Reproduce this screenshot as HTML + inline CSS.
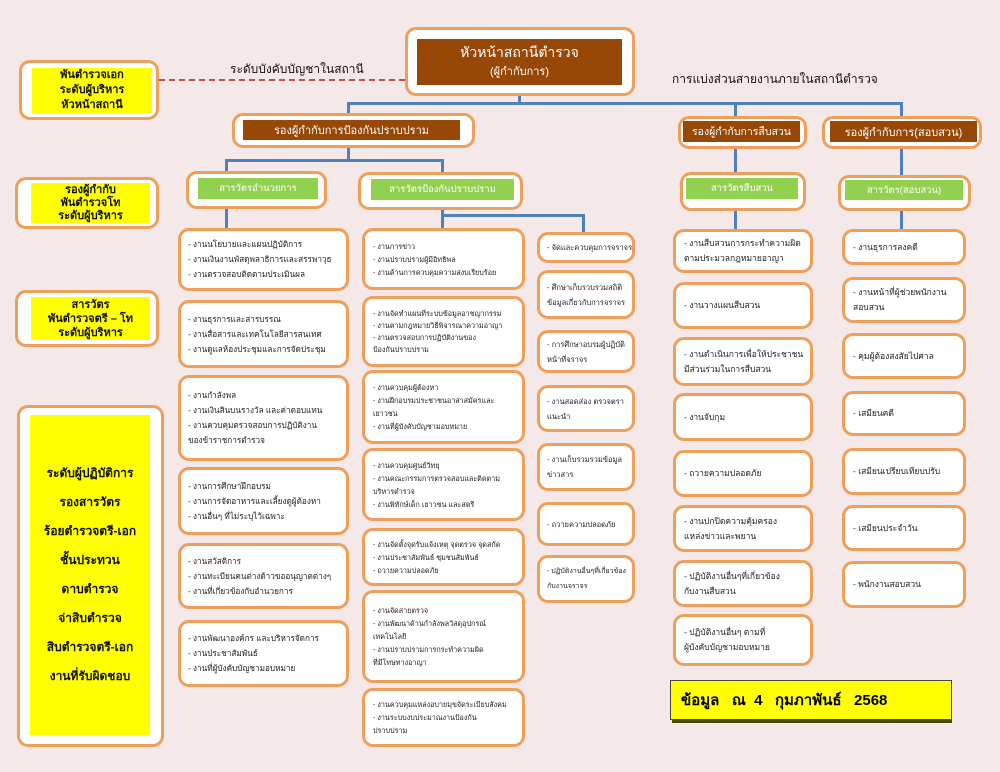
<!DOCTYPE html>
<html><head><meta charset="utf-8"><style>
*{margin:0;padding:0;box-sizing:border-box}
body{width:1000px;height:772px;background:#f5e8e8;position:relative;overflow:hidden;font-family:"Liberation Sans","Noto Sans CJK SC",sans-serif}
.b{position:absolute;background:#fff;border:3px solid #ee9f5a;border-radius:11px}
.i{position:absolute;font-size:8.5px;color:#222;line-height:15px;padding-left:8px;display:flex;flex-direction:column;justify-content:center;white-space:nowrap;overflow:hidden}
.y{position:absolute;background:#ffff00;color:#111;font-size:11px;font-weight:bold;text-align:center;display:flex;flex-direction:column;justify-content:center;white-space:nowrap}
.br{position:absolute;background:#974806;color:#fff;text-align:center;display:flex;flex-direction:column;justify-content:center;font-size:11px;white-space:nowrap}
.g{position:absolute;background:#92d050;color:#fff;text-align:center;font-size:9.5px;display:flex;align-items:center;justify-content:center;white-space:nowrap}
.l{position:absolute;background:#4f81bd}
.t{position:absolute;font-size:12px;color:#111;white-space:nowrap}
.sa{font-size:8.2px;padding-left:7px}
.sb{font-size:7.2px;line-height:13px}
.sc{font-size:7.5px;padding-left:7px}
</style></head><body>
<div class="b" style="left:19px;top:60px;width:140px;height:60px"></div>
<div class="y" style="left:32px;top:68px;width:120px;height:45px;line-height:15px">พันตำรวจเอก<br>ระดับผู้บริหาร<br>หัวหน้าสถานี</div>
<div class="b" style="left:15px;top:177px;width:144px;height:52px"></div>
<div class="y" style="left:31px;top:183px;width:119px;height:40px;line-height:13px">รองผู้กำกับ<br>พันตำรวจโท<br>ระดับผู้บริหาร</div>
<div class="b" style="left:15px;top:290px;width:144px;height:57px"></div>
<div class="y" style="left:31px;top:297px;width:119px;height:43px;line-height:14px">สารวัตร<br>พันตำรวจตรี – โท<br>ระดับผู้บริหาร</div>
<div class="b" style="left:17px;top:405px;width:147px;height:342px"></div>
<div class="y" style="left:30px;top:415px;width:120px;height:320px;line-height:29px;font-size:12px">ระดับผู้ปฏิบัติการ<br>รองสารวัตร<br>ร้อยตำรวจตรี-เอก<br>ชั้นประทวน<br>ดาบตำรวจ<br>จ่าสิบตำรวจ<br>สิบตำรวจตรี-เอก<br>งานที่รับผิดชอบ</div>
<div style="position:absolute;left:159px;top:79px;width:246px;border-top:2px dashed #c0504d"></div>
<div class="t" style="left:230px;top:60px">ระดับบังคับบัญชาในสถานี</div>
<div class="t" style="left:672px;top:70px">การแบ่งส่วนสายงานภายในสถานีตำรวจ</div>
<div class="l" style="left:518px;top:95px;width:3px;height:10px"></div>
<div class="l" style="left:347px;top:102px;width:556px;height:3px"></div>
<div class="l" style="left:347px;top:102px;width:3px;height:14px"></div>
<div class="l" style="left:734px;top:102px;width:3px;height:74px"></div>
<div class="l" style="left:900px;top:102px;width:3px;height:76px"></div>
<div class="l" style="left:347px;top:146px;width:3px;height:15px"></div>
<div class="l" style="left:225px;top:159px;width:219px;height:3px"></div>
<div class="l" style="left:225px;top:159px;width:3px;height:14px"></div>
<div class="l" style="left:441px;top:159px;width:3px;height:14px"></div>
<div class="l" style="left:225px;top:207px;width:3px;height:22px"></div>
<div class="l" style="left:441px;top:207px;width:3px;height:22px"></div>
<div class="l" style="left:441px;top:214px;width:144px;height:3px"></div>
<div class="l" style="left:582px;top:214px;width:3px;height:20px"></div>
<div class="l" style="left:734px;top:208px;width:3px;height:22px"></div>
<div class="l" style="left:900px;top:208px;width:3px;height:22px"></div>
<div class="b" style="left:405px;top:27px;width:230px;height:69px"></div>
<div class="br" style="left:417px;top:39px;width:205px;height:46px;font-size:14px;line-height:20px">หัวหน้าสถานีตำรวจ<br><span style="font-size:11px">(ผู้กำกับการ)</span></div>
<div class="b" style="left:232px;top:113px;width:243px;height:35px"></div>
<div class="br" style="left:243px;top:120px;width:217px;height:20px">รองผู้กำกับการป้องกันปราบปราม</div>
<div class="b" style="left:678px;top:116px;width:129px;height:33px"></div>
<div class="br" style="left:683px;top:121px;width:117px;height:21px;font-size:10.5px">รองผู้กำกับการสืบสวน</div>
<div class="b" style="left:822px;top:116px;width:160px;height:33px"></div>
<div class="br" style="left:830px;top:121px;width:147px;height:21px">รองผู้กำกับการ(สอบสวน)</div>
<div class="b" style="left:186px;top:171px;width:141px;height:38px"></div>
<div class="g" style="left:198px;top:178px;width:120px;height:21px">สารวัตรอำนวยการ</div>
<div class="b" style="left:358px;top:172px;width:165px;height:38px"></div>
<div class="g" style="left:371px;top:179px;width:143px;height:21px">สารวัตรป้องกันปราบปราม</div>
<div class="b" style="left:680px;top:172px;width:126px;height:39px"></div>
<div class="g" style="left:686px;top:178px;width:112px;height:21px">สารวัตรสืบสวน</div>
<div class="b" style="left:838px;top:175px;width:133px;height:36px"></div>
<div class="g" style="left:845px;top:180px;width:118px;height:20px">สารวัตร(สอบสวน)</div>
<!-- column A -->
<div class="b i sa" style="left:178px;top:228px;width:171px;height:63px">- งานนโยบายและแผนปฏิบัติการ<br>- งานเงินงานพัสดุพลาธิการและสรรพาวุธ<br>- งานตรวจสอบติดตามประเมินผล</div>
<div class="b i sa" style="left:178px;top:300px;width:171px;height:68px">- งานธุรการและสารบรรณ<br>- งานสื่อสารและเทคโนโลยีสารสนเทศ<br>- งานดูแลห้องประชุมและการจัดประชุม</div>
<div class="b i sa" style="left:178px;top:375px;width:171px;height:86px">- งานกำลังพล<br>- งานเงินสินบนรางวัล และค่าตอบแทน<br>- งานควบคุมตรวจสอบการปฏิบัติงาน<br>ของข้าราชการตำรวจ</div>
<div class="b i sa" style="left:178px;top:467px;width:171px;height:68px">- งานการศึกษาฝึกอบรม<br>- งานการจัดอาหารและเลี้ยงดูผู้ต้องหา<br>- งานอื่นๆ ที่ไม่ระบุไว้เฉพาะ</div>
<div class="b i sa" style="left:178px;top:543px;width:171px;height:66px">- งานสวัสดิการ<br>- งานทะเบียนคนต่างด้าวขออนุญาตต่างๆ<br>- งานที่เกี่ยวข้องกับอำนวยการ</div>
<div class="b i sa" style="left:178px;top:620px;width:171px;height:67px">- งานพัฒนาองค์กร และบริหารจัดการ<br>- งานประชาสัมพันธ์<br>- งานที่ผู้บังคับบัญชามอบหมาย</div>
<!-- column B -->
<div class="b i sb" style="left:362px;top:228px;width:163px;height:62px">- งานการข่าว<br>- งานปราบปรามผู้มีอิทธิพล<br>- งานด้านการควบคุมความสงบเรียบร้อย</div>
<div class="b i sb" style="left:362px;top:296px;width:163px;height:71px;line-height:12px">- งานจัดทำแผนที่ระบบข้อมูลอาชญากรรม<br>- งานตามกฎหมายวิธีพิจารณาความอาญา<br>- งานตรวจสอบการปฏิบัติงานของ<br>ป้องกันปราบปราม</div>
<div class="b i sb" style="left:362px;top:370px;width:163px;height:74px">- งานควบคุมผู้ต้องหา<br>- งานฝึกอบรมประชาชนอาสาสมัครและ<br>เยาวชน<br>- งานที่ผู้บังคับบัญชามอบหมาย</div>
<div class="b i sb" style="left:362px;top:448px;width:163px;height:73px">- งานควบคุมศูนย์วิทยุ<br>- งานคณะกรรมการตรวจสอบและติดตาม<br>บริหารตำรวจ<br>- งานพิทักษ์เด็ก เยาวชน และสตรี</div>
<div class="b i sb" style="left:362px;top:528px;width:163px;height:58px">- งานจัดตั้งจุดรับแจ้งเหตุ จุดตรวจ จุดสกัด<br>- งานประชาสัมพันธ์ ชุมชนสัมพันธ์<br>- ถวายความปลอดภัย</div>
<div class="b i sb" style="left:362px;top:590px;width:163px;height:93px">- งานจัดสายตรวจ<br>- งานพัฒนาด้านกำลังพลวัสดุอุปกรณ์<br>เทคโนโลยี<br>- งานปราบปรามการกระทำความผิด<br>ที่มีโทษทางอาญา</div>
<div class="b i sb" style="left:362px;top:688px;width:163px;height:59px">- งานควบคุมแหล่งอบายมุขจัดระเบียบสังคม<br>- งานระบบงบประมาณงานป้องกัน<br>ปราบปราม</div>
<!-- column C -->
<div class="b i sc" style="left:537px;top:232px;width:98px;height:31px">- จัดและควบคุมการจราจร</div>
<div class="b i sc" style="left:537px;top:270px;width:98px;height:49px">- ศึกษาเก็บรวบรวมสถิติ<br>ข้อมูลเกี่ยวกับการจราจร</div>
<div class="b i sc" style="left:537px;top:330px;width:98px;height:43px">- การศึกษาอบรมผู้ปฏิบัติ<br>หน้าที่จราจร</div>
<div class="b i sc" style="left:537px;top:385px;width:98px;height:47px">- งานสอดส่อง ตรวจตรา<br>แนะนำ</div>
<div class="b i sc" style="left:537px;top:443px;width:98px;height:48px">- งานเก็บรวมรวมข้อมูล<br>ข่าวสาร</div>
<div class="b i sc" style="left:537px;top:502px;width:98px;height:44px">- ถวายความปลอดภัย</div>
<div class="b i sc" style="left:537px;top:555px;width:98px;height:48px;font-size:7px">- ปฏิบัติงานอื่นๆที่เกี่ยวข้อง<br>กับงานจราจร</div>
<!-- column D -->
<div class="b i" style="left:673px;top:229px;width:140px;height:44px">- งานสืบสวนการกระทำความผิด<br>ตามประมวลกฎหมายอาญา</div>
<div class="b i" style="left:673px;top:282px;width:140px;height:47px">- งานวางแผนสืบสวน</div>
<div class="b i" style="left:673px;top:337px;width:140px;height:49px">- งานดำเนินการเพื่อให้ประชาชน<br>มีส่วนร่วมในการสืบสวน</div>
<div class="b i" style="left:673px;top:393px;width:140px;height:48px">- งานจับกุม</div>
<div class="b i" style="left:673px;top:450px;width:140px;height:47px">- ถวายความปลอดภัย</div>
<div class="b i" style="left:673px;top:505px;width:140px;height:47px">- งานปกปิดความคุ้มครอง<br>แหล่งข่าวและพยาน</div>
<div class="b i" style="left:673px;top:560px;width:140px;height:47px">- ปฏิบัติงานอื่นๆที่เกี่ยวข้อง<br>กับงานสืบสวน</div>
<div class="b i" style="left:673px;top:614px;width:140px;height:52px">- ปฏิบัติงานอื่นๆ ตามที่<br>ผู้บังคับบัญชามอบหมาย</div>
<!-- column E -->
<div class="b i" style="left:842px;top:229px;width:124px;height:36px">- งานธุรการลงคดี</div>
<div class="b i" style="left:842px;top:277px;width:124px;height:46px">- งานหน้าที่ผู้ช่วยพนักงาน<br>สอบสวน</div>
<div class="b i" style="left:842px;top:333px;width:124px;height:46px">- คุมผู้ต้องสงสัยไปศาล</div>
<div class="b i" style="left:842px;top:391px;width:124px;height:45px">- เสมียนคดี</div>
<div class="b i" style="left:842px;top:448px;width:124px;height:47px">- เสมียนเปรียบเทียบปรับ</div>
<div class="b i" style="left:842px;top:505px;width:124px;height:46px">- เสมียนประจำวัน</div>
<div class="b i" style="left:842px;top:561px;width:124px;height:47px">- พนักงานสอบสวน</div>
<div style="position:absolute;left:672px;top:683px;width:280px;height:40px;background:#4a4a00"></div>
<div style="position:absolute;left:670px;top:680px;width:282px;height:40px;background:#ffff00;border:1px solid #444;font-size:15px;font-weight:bold;padding-left:10px;display:flex;align-items:center;white-space:pre">ข้อมูล   ณ  4   กุมภาพันธ์   2568</div>
</body></html>
